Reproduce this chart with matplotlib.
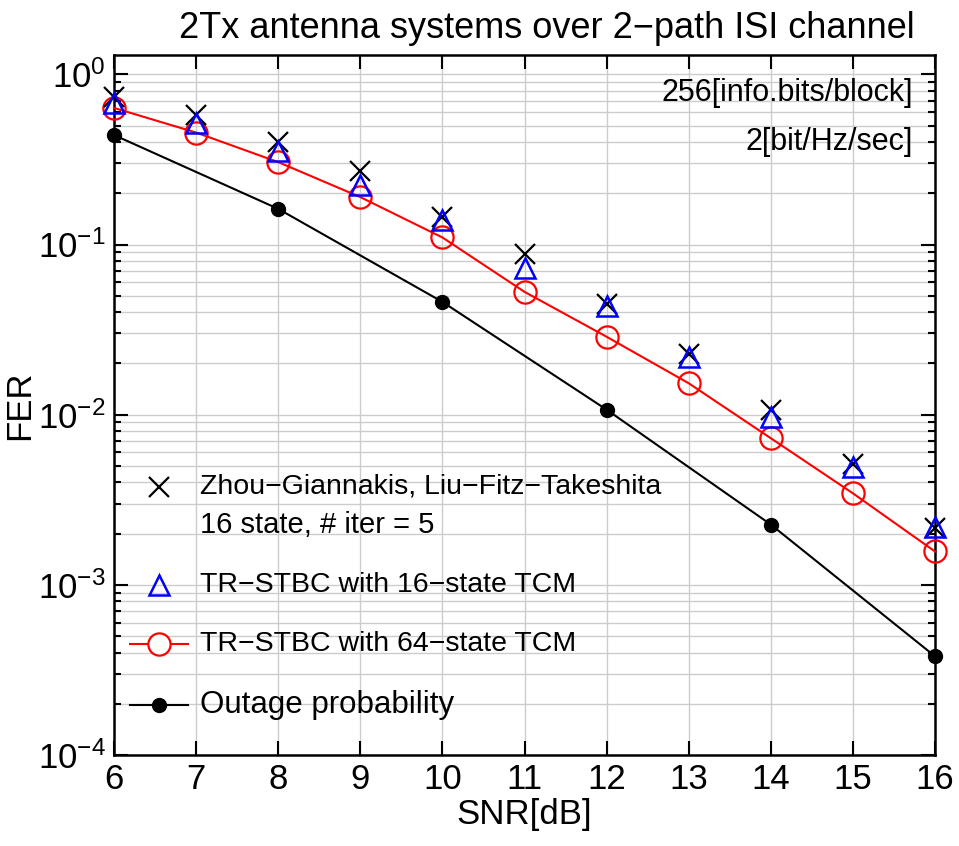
import numpy as np
import matplotlib
matplotlib.use('Agg')
import matplotlib.pyplot as plt
from matplotlib.ticker import LogLocator, NullFormatter

plt.rcParams['font.family'] = ['Liberation Sans', 'DejaVu Sans']
plt.rcParams['mathtext.fontset'] = 'custom'
plt.rcParams['mathtext.rm'] = 'Liberation Sans'
plt.rcParams['mathtext.default'] = 'regular'

snr = np.arange(6, 17)
fer_zhou = [0.74, 0.58, 0.40, 0.27, 0.145, 0.088, 0.045, 0.0228, 0.0107, 0.0051, 0.00215]
fer_tr16 = [0.68, 0.52, 0.355, 0.225, 0.139, 0.0727, 0.0436, 0.0219, 0.0097, 0.00495, 0.0022]
fer_tr64 = [0.635, 0.455, 0.305, 0.19, 0.11, 0.0527, 0.0287, 0.0153, 0.00727, 0.00345, 0.00157]
snr_out = [6, 8, 10, 12, 14, 16]
fer_out = [0.44, 0.162, 0.046, 0.0107, 0.00226, 0.00038]

fig = plt.figure(figsize=(9.59, 8.46), dpi=100)
ax = fig.add_axes([0.1189, 0.1076, 0.8561, 0.8274])

ax.semilogy(snr, fer_zhou, 'x', color='black', ms=14, mew=1.6, ls='none', zorder=4, clip_on=False)
ax.semilogy(snr, fer_tr16, '^', color='blue', mfc='none', ms=15, mew=1.8, ls='none', zorder=4, clip_on=False)
ax.semilogy(snr, fer_tr64, '-o', color='red', mfc='none', ms=16, mew=1.6, lw=1.5, zorder=3, clip_on=False)
ax.semilogy(snr_out, fer_out, '-o', color='black', ms=10, lw=1.5, zorder=3, clip_on=False)

ax.set_xlim(6, 16)
ax.set_ylim(1e-4, 1.3)
ax.set_xticks(snr)
ax.yaxis.set_major_locator(LogLocator(base=10, numticks=10))
ax.yaxis.set_minor_locator(LogLocator(base=10, subs=np.arange(2, 10), numticks=20))
ax.yaxis.set_minor_formatter(NullFormatter())

ax.grid(True, which='major', color='#cccccc', lw=1.0)
ax.grid(True, which='minor', axis='y', color='#cccccc', lw=1.0)
ax.set_axisbelow(True)

ax.tick_params(which='both', direction='in', top=True, right=True, width=1.5)
ax.tick_params(which='major', length=10, labelsize=25, pad=6)
ax.tick_params(which='minor', length=5)
for s in ax.spines.values():
    s.set_linewidth(1.8)

ax.set_xlabel('SNR[dB]', fontsize=25, labelpad=1)
ax.set_ylabel('FER', fontsize=25, labelpad=1)
ax.set_title('2Tx antenna systems over 2\u2212path ISI channel', fontsize=26, pad=12, x=0.527)

ax.text(0.973, 0.946, '256[info.bits/block]', transform=ax.transAxes, ha='right', va='center', fontsize=22)
ax.text(0.973, 0.876, '2[bit/Hz/sec]', transform=ax.transAxes, ha='right', va='center', fontsize=22)

# hand-made legend
hx = [0.0195, 0.0901]
mx = 0.0548
tx = 0.1048
ax.plot([mx], [0.383], 'x', color='black', ms=14, mew=1.6, transform=ax.transAxes, clip_on=False)
ax.plot([mx], [0.243], '^', color='blue', mfc='none', ms=15, mew=1.8, transform=ax.transAxes, clip_on=False)
ax.plot(hx, [0.159, 0.159], '-', color='red', lw=1.5, transform=ax.transAxes)
ax.plot([mx], [0.159], 'o', color='red', mfc='white', ms=16, mew=1.6, transform=ax.transAxes)
ax.plot(hx, [0.0714, 0.0714], '-', color='black', lw=1.5, transform=ax.transAxes)
ax.plot([mx], [0.0714], 'o', color='black', ms=10, transform=ax.transAxes)
ax.text(tx, 0.383, 'Zhou\u2212Giannakis, Liu\u2212Fitz\u2212Takeshita', transform=ax.transAxes, va='center', fontsize=20.5)
ax.text(tx, 0.329, '16 state, # iter = 5', transform=ax.transAxes, va='center', fontsize=21)
ax.text(tx, 0.243, 'TR\u2212STBC with 16\u2212state TCM', transform=ax.transAxes, va='center', fontsize=20.5)
ax.text(tx, 0.159, 'TR\u2212STBC with 64\u2212state TCM', transform=ax.transAxes, va='center', fontsize=20.5)
ax.text(tx, 0.0714, 'Outage probability', transform=ax.transAxes, va='center', fontsize=22.5)

fig.savefig('out.png', dpi=100)
